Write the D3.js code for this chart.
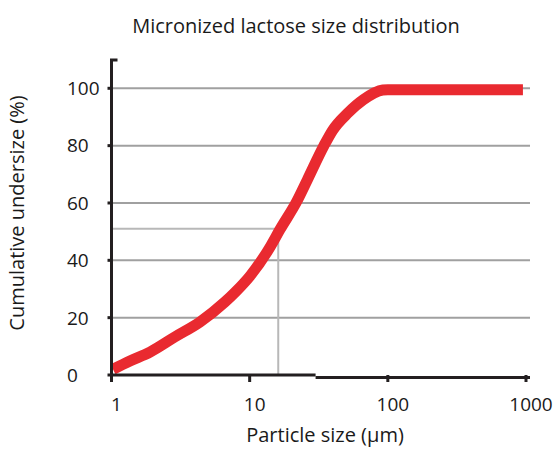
<!DOCTYPE html>
<html>
<head>
<meta charset="utf-8">
<script src="https://cdn.jsdelivr.net/npm/d3@7"></script>
<style>
  html, body { margin: 0; padding: 0; background: #fff; }
  svg { display: block; }
  text { font-family: "Open Sans", "Noto Sans", sans-serif; fill: #1a1a1a; }
</style>
</head>
<body>
<svg id="chart" width="559" height="450"></svg>
<script>
// ---- data ----
const particleSize = [1.025, 1.36, 1.9, 2.88, 4.37, 6.63, 7.9, 10.05, 14.2, 16.6, 21.9, 26.1, 34.5, 39.8, 51.7, 66.4, 92, 100, 950];
const undersize    = [2,     4.9,  8.0, 13.3, 18.5, 25.5, 29,  34.5,  45,   50.8, 60.5, 68,   80,   85.3, 91.5, 96,   99.4, 99.5, 99.5];
const yTicks = [0, 20, 40, 60, 80, 100];
const xTicks = [1, 10, 100, 1000];
const d50Size = 16.1;
const d50Level = 51;
const titleText = "Micronized lactose size distribution";
const xLabel = "Particle size (µm)";
const yLabel = "Cumulative undersize (%)";

// ---- scales ----
const svg = d3.select("#chart");
const x = d3.scaleLog().domain([1, 1000]).range([111.5, 526]);
const y = d3.scaleLinear().domain([0, 100]).range([375, 88.3]);
const gridRight = 530;
const axisTop = 60;

// title
svg.append("text").attr("x", 296).attr("y", 33).attr("text-anchor", "middle")
  .style("font-size", "20px").text(titleText);

// gridlines
svg.append("g").selectAll("line").data(yTicks.filter(d => d > 0)).join("line")
  .attr("x1", x(1)).attr("x2", gridRight)
  .attr("y1", d => y(d)).attr("y2", d => y(d))
  .attr("stroke", "#a0a0a0").attr("stroke-width", 2);

// d50 reference lines
svg.append("line").attr("x1", x(1)).attr("x2", x(d50Size))
  .attr("y1", y(d50Level)).attr("y2", y(d50Level))
  .attr("stroke", "#b8b8b8").attr("stroke-width", 2);
svg.append("line").attr("x1", x(d50Size)).attr("x2", x(d50Size))
  .attr("y1", y(d50Level)).attr("y2", y(0))
  .attr("stroke", "#b8b8b8").attr("stroke-width", 2);

// curve
const pts = particleSize.map((s, i) => [s, undersize[i]]);
svg.append("path").datum(pts)
  .attr("fill", "none").attr("stroke", "#e92a30").attr("stroke-width", 11)
  .attr("stroke-linecap", "butt").attr("stroke-linejoin", "round")
  .attr("d", d3.line().x(d => x(d[0])).y(d => y(d[1])).curve(d3.curveMonotoneX));

// y axis
const yAxis = svg.append("g");
yAxis.append("path").attr("d", `M${x(1)+6},${axisTop} H${x(1)} V${y(0)+2}`)
  .attr("fill", "none").attr("stroke", "#231f20").attr("stroke-width", 3);
yAxis.selectAll("line.tk").data(yTicks).join("line").attr("class", "tk")
  .attr("x1", x(1) - 4).attr("x2", x(1)).attr("y1", d => y(d)).attr("y2", d => y(d))
  .attr("stroke", "#231f20").attr("stroke-width", 3);
yAxis.selectAll("text").data(yTicks).join("text")
  .attr("x", 67).attr("y", d => y(d)).attr("dy", "0.36em")
  .style("font-size", "19px").text(d => d);

// x axis
const xAxis = svg.append("g");
xAxis.append("path").attr("d", `M${x(1)},${y(0)} H${x(30)}`)
  .attr("stroke", "#231f20").attr("stroke-width", 3);
xAxis.append("path").attr("d", `M${x(30)},${y(0)+2.5} H${gridRight}`)
  .attr("stroke", "#231f20").attr("stroke-width", 3);
xAxis.selectAll("line.tk").data(xTicks).join("line").attr("class", "tk")
  .attr("x1", d => x(d)).attr("x2", d => x(d))
  .attr("y1", y(0)).attr("y2", y(0) + 7)
  .attr("stroke", "#231f20").attr("stroke-width", 3);
xAxis.selectAll("text").data(xTicks).join("text")
  .attr("x", d => x(d) + 5).attr("y", 411).attr("text-anchor", "middle")
  .style("font-size", "19px").text(d => d);

// axis labels
svg.append("text").attr("x", 325).attr("y", 442).attr("text-anchor", "middle")
  .style("font-size", "20px").text(xLabel);
svg.append("text").attr("transform", "translate(24,213) rotate(-90)")
  .attr("text-anchor", "middle").style("font-size", "20px").text(yLabel);
</script>
</body>
</html>
